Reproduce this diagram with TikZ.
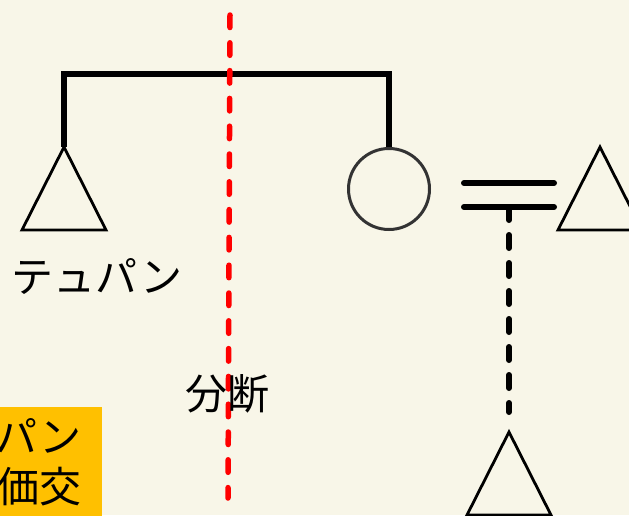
\documentclass[tikz,border=0pt]{standalone}
\usepackage{fontspec}
\setmainfont{Noto Sans CJK JP}
\usetikzlibrary{backgrounds}
\definecolor{paper}{RGB}{248,246,232}
\definecolor{mark}{RGB}{255,192,0}
\definecolor{cutred}{RGB}{255,0,0}

\begin{document}
\begin{tikzpicture} [x=1pt,y=-1pt,background rectangle/.style={fill=paper},
			show background rectangle,inner frame sep=0pt,line cap=round,
			bar/.style={line width=5.5pt,line cap=butt,line join=miter},
			tri/.style={draw,line width=2.8pt,line join=miter},
			eq/.style={line width=6pt},
			link/.style={line width=6pt,dash pattern=on 13pt off 15pt},
			cutline/.style={cutred,line width=5.5pt,dash pattern=on 12.5pt off 15.3pt},
			lbl/.style={font=\fontsize{42pt}{50pt}\selectfont,inner sep=0pt}]

		\useasboundingbox (0,0) rectangle (629,515);
		\clip (0,0) rectangle (629,515);

		\coordinate (tl) at (64,147);
		\coordinate (tr) at (600,147);
		\coordinate (tb) at (509,432);
		\node [circle, draw=black!80, line width=3pt, minimum size=81pt, inner sep=0pt] (circ) at (389,189) {};

		\foreach \a in {tl,tr,tb}
			\draw [tri] (\a) -- ++(-42,83) -- ++(84,0) -- cycle;

		\draw [bar] (tl) -- ++(0,-73) -| (circ.north);

		\coordinate (eq1w) at (464,183);
		\coordinate (eq1e) at (554,183);
		\coordinate (eq2w) at (464,207);
		\coordinate (eq2e) at (554,207);
		\coordinate (eqm) at (509,207);
		\draw [eq] (eq1w) -- (eq1e);
		\draw [eq] (eq2w) -- (eq2e);
		\draw [link, shorten >=20pt] (eqm) -- (tb);

		\node [lbl] (tepan) at (97,276) {テュパン};
		\node [lbl, fill=mark, align=right, anchor=north east, inner xsep=20pt, inner ysep=11pt] (price) at (102,407) {パン\\価交};

		\coordinate (cuttop) at (230,15);
		\coordinate (cutbot) at (228,498);
		\draw [cutline] (cuttop) -- (cutbot);
		\node [lbl] (cut) at (227,394) {分断};

		\end{tikzpicture}
\end{document}
